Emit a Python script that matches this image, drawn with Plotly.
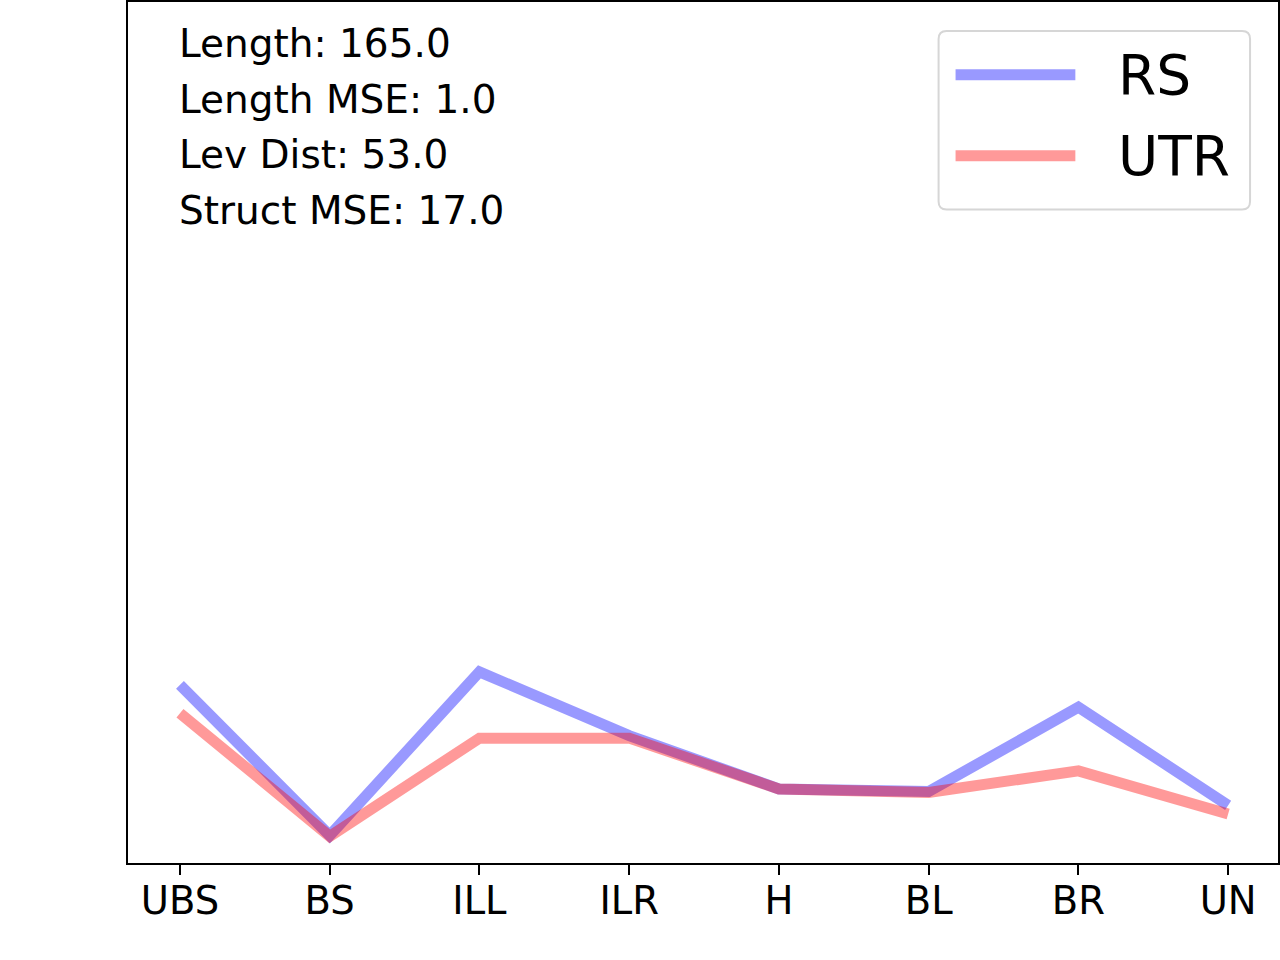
import plotly.graph_objects as go

# categories along the x axis
categories = ["UBS", "BS", "ILL", "ILR", "H", "BL", "BR", "UN"]

# values (y axis has no labels, arbitrary units)
rs_values = [20.7, 3.2, 22.2, 14.8, 8.6, 8.3, 18.1, 6.7]
utr_values = [17.4, 3.1, 14.5, 14.5, 8.6, 8.2, 10.7, 5.7]

stats_lines = ["Length: 165.0", "Length MSE: 1.0", "Lev Dist: 53.0", "Struct MSE: 17.0"]
series_names = ["RS", "UTR"]

FONT = "DejaVu Sans"
BLUE = "rgba(0,0,255,0.4)"
RED = "rgba(255,0,0,0.4)"

fig = go.Figure()
x_idx = list(range(len(categories)))
fig.add_trace(go.Scatter(x=x_idx, y=rs_values, mode="lines", name=series_names[0],
                         line=dict(color=BLUE, width=11), showlegend=False))
fig.add_trace(go.Scatter(x=x_idx, y=utr_values, mode="lines", name=series_names[1],
                         line=dict(color=RED, width=11), showlegend=False))

# plot area in pixels: x 128..1280, y 0..863
def px_x(p):
    return (p - 128) / 1152

def px_y(p):
    return (863 - p) / 863

# stats text in the top-left corner
for i, s in enumerate(stats_lines):
    fig.add_annotation(x=px_x(177), y=px_y(42 + i * 55.5), xref="paper", yref="paper",
                       text=s, showarrow=False, xanchor="left", yanchor="middle",
                       font=dict(family=FONT, size=39, color="black"))

# hand-made legend with a rounded box
x0, x1, y0, y1 = px_x(940), px_x(1252), px_y(208), px_y(29)
rx, ry = 8 / 1152, 8 / 863
box = (f"M{x0+rx},{y0} L{x1-rx},{y0} Q{x1},{y0} {x1},{y0+ry} L{x1},{y1-ry} "
       f"Q{x1},{y1} {x1-rx},{y1} L{x0+rx},{y1} Q{x0},{y1} {x0},{y1-ry} "
       f"L{x0},{y0+ry} Q{x0},{y0} {x0+rx},{y0} Z")
fig.add_shape(type="path", path=box, xref="paper", yref="paper",
              line=dict(color="#d6d6d6", width=2), fillcolor="rgba(255,255,255,0.8)")
for name, color, yc in [(series_names[0], BLUE, 73), (series_names[1], RED, 154)]:
    fig.add_shape(type="line", xref="paper", yref="paper",
                  x0=px_x(957), x1=px_x(1077), y0=px_y(yc), y1=px_y(yc),
                  line=dict(color=color, width=11))
    fig.add_annotation(x=px_x(1118), y=px_y(yc), xref="paper", yref="paper",
                       text=name, showarrow=False, xanchor="left", yanchor="middle",
                       font=dict(family=FONT, size=55, color="black"))

fig.update_layout(
    width=1280, height=960,
    margin=dict(l=128, r=0, t=0, b=97),
    plot_bgcolor="white", paper_bgcolor="white",
    font=dict(family=FONT, color="black"),
)
fig.update_xaxes(range=[-0.347, 7.333], tickmode="array", tickvals=x_idx, ticktext=categories,
                 showgrid=False, zeroline=False, showline=True, mirror=True,
                 linecolor="black", linewidth=2, ticks="outside", ticklen=10,
                 tickwidth=2, tickcolor="black", tickfont=dict(family=FONT, size=38.5),
                 ticklabelstandoff=-7)
fig.update_yaxes(range=[0, 100], showgrid=False, zeroline=False, showline=True, mirror=True,
                 linecolor="black", linewidth=2, showticklabels=False, ticks="")

# page body margin would push the figure 8px off the window
fig.write_html("out.html", config={"displayModeBar": False},
               post_script="document.body.style.margin='0';")
